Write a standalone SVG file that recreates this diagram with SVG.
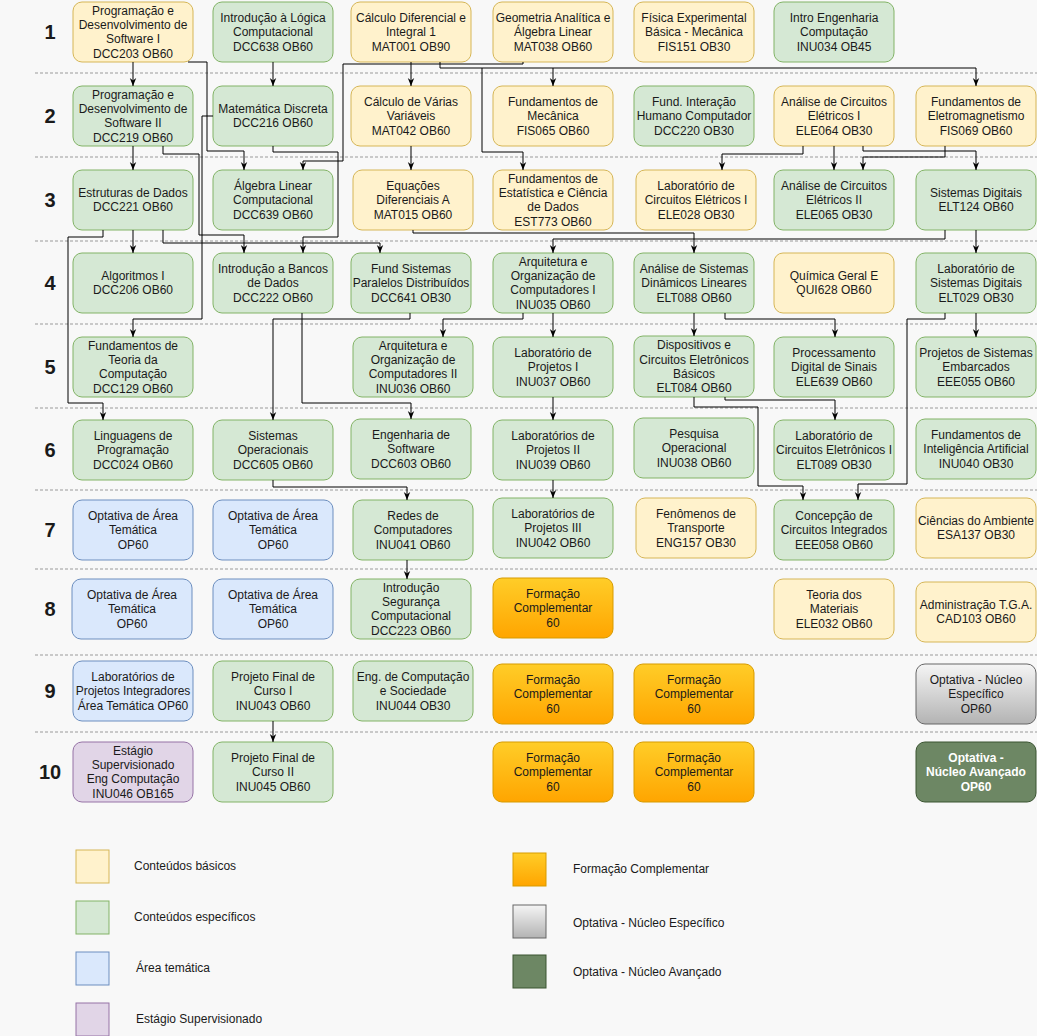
<svg xmlns="http://www.w3.org/2000/svg" width="1037" height="1036" viewBox="0 0 1037 1036">
<defs>
<linearGradient id="gOrange" x1="0" y1="0" x2="0" y2="1"><stop offset="0" stop-color="#ffcd28"/><stop offset="1" stop-color="#ffa500"/></linearGradient>
<linearGradient id="gGray" x1="0" y1="0" x2="0" y2="1"><stop offset="0" stop-color="#f5f5f5"/><stop offset="1" stop-color="#b3b3b3"/></linearGradient>
<marker id="arr" viewBox="0 0 10 10" refX="10" refY="5" markerWidth="8" markerHeight="8" markerUnits="userSpaceOnUse" orient="auto"><path d="M0,1 L10,5 L0,9 L3,5 z" fill="#000"/></marker>
</defs>
<style>
.n rect{stroke-width:1}
.y rect{fill:#fff2cc;stroke:#d6b656}
.g rect{fill:#d5e8d4;stroke:#82b366}
.b rect{fill:#dae8fc;stroke:#6c8ebf}
.p rect{fill:#e1d5e7;stroke:#9673a6}
.o rect{fill:url(#gOrange);stroke:#d79b00}
.s rect{fill:url(#gGray);stroke:#666666}
.d rect{fill:#6d8764;stroke:#3a5431}
.n text{font-family:"Liberation Sans",Arial,Helvetica,sans-serif;font-size:12px;fill:#1a1a1a;text-anchor:middle}
.d text{fill:#ffffff;font-weight:bold}
.lbl{font-family:"Liberation Sans",Arial,Helvetica,sans-serif;font-size:20px;font-weight:bold;fill:#1a1a1a;text-anchor:middle}
.sep{stroke:#9a9a9a;stroke-width:1;stroke-dasharray:3 2}
.c path{fill:none;stroke:#000;stroke-width:1;marker-end:url(#arr)}
.lg text{font-family:"Liberation Sans",Arial,Helvetica,sans-serif;font-size:12px;fill:#1a1a1a}
</style>
<rect x="0" y="0" width="1037" height="1036" fill="#f8f8f8"/>

<g id="separators">
<line class="sep" x1="35" y1="73" x2="1037" y2="73"/>
<line class="sep" x1="35" y1="157" x2="1037" y2="157"/>
<line class="sep" x1="35" y1="241" x2="1037" y2="241"/>
<line class="sep" x1="35" y1="324" x2="1037" y2="324"/>
<line class="sep" x1="35" y1="408" x2="1037" y2="408"/>
<line class="sep" x1="35" y1="490" x2="1037" y2="490"/>
<line class="sep" x1="35" y1="569" x2="1037" y2="569"/>
<line class="sep" x1="35" y1="655" x2="1037" y2="655"/>
<line class="sep" x1="35" y1="732" x2="1037" y2="732"/>
</g>

<g id="row-labels">
<text class="lbl" x="50" y="39">1</text>
<text class="lbl" x="50" y="123">2</text>
<text class="lbl" x="50" y="207">3</text>
<text class="lbl" x="50" y="290">4</text>
<text class="lbl" x="50" y="374">5</text>
<text class="lbl" x="50" y="457">6</text>
<text class="lbl" x="50" y="537">7</text>
<text class="lbl" x="50" y="616">8</text>
<text class="lbl" x="50" y="698">9</text>
<text class="lbl" x="50" y="779">10</text>
</g>

<!-- Row 1 -->
<g id="DCC203" class="n y"><rect x="73" y="2" width="120" height="60" rx="9"/><text><tspan x="133" y="14.6">Programação e</tspan><tspan x="133" y="29">Desenvolvimento de</tspan><tspan x="133" y="43.4">Software I</tspan><tspan x="133" y="57.8">DCC203 OB60</tspan></text></g>
<g id="DCC638" class="n g"><rect x="213" y="2" width="120" height="60" rx="9"/><text><tspan x="273" y="21.8">Introdução à Lógica</tspan><tspan x="273" y="36.2">Computacional</tspan><tspan x="273" y="50.6">DCC638 OB60</tspan></text></g>
<g id="MAT001" class="n y"><rect x="351" y="2" width="120" height="60" rx="9"/><text><tspan x="411" y="21.8">Cálculo Diferencial e</tspan><tspan x="411" y="36.2">Integral 1</tspan><tspan x="411" y="50.6">MAT001 OB90</tspan></text></g>
<g id="MAT038" class="n y"><rect x="493" y="2" width="120" height="60" rx="9"/><text><tspan x="553" y="21.8">Geometria Analítica e</tspan><tspan x="553" y="36.2">Álgebra Linear</tspan><tspan x="553" y="50.6">MAT038 OB60</tspan></text></g>
<g id="FIS151" class="n y"><rect x="634" y="2" width="120" height="60" rx="9"/><text><tspan x="694" y="21.8">Física Experimental</tspan><tspan x="694" y="36.2">Básica - Mecânica</tspan><tspan x="694" y="50.6">FIS151 OB30</tspan></text></g>
<g id="INU034" class="n g"><rect x="774" y="2" width="120" height="60" rx="9"/><text><tspan x="834" y="21.8">Intro Engenharia</tspan><tspan x="834" y="36.2">Computação</tspan><tspan x="834" y="50.6">INU034 OB45</tspan></text></g>

<!-- Row 2 -->
<g id="DCC219" class="n g"><rect x="73" y="86" width="120" height="60" rx="9"/><text><tspan x="133" y="98.6">Programação e</tspan><tspan x="133" y="113">Desenvolvimento de</tspan><tspan x="133" y="127.4">Software II</tspan><tspan x="133" y="141.8">DCC219 OB60</tspan></text></g>
<g id="DCC216" class="n g"><rect x="213" y="86" width="120" height="60" rx="9"/><text><tspan x="273" y="113">Matemática Discreta</tspan><tspan x="273" y="127.4">DCC216 OB60</tspan></text></g>
<g id="MAT042" class="n y"><rect x="351" y="86" width="120" height="60" rx="9"/><text><tspan x="411" y="105.8">Cálculo de Várias</tspan><tspan x="411" y="120.2">Variáveis</tspan><tspan x="411" y="134.6">MAT042 OB60</tspan></text></g>
<g id="FIS065" class="n y"><rect x="493" y="86" width="120" height="60" rx="9"/><text><tspan x="553" y="105.8">Fundamentos de</tspan><tspan x="553" y="120.2">Mecânica</tspan><tspan x="553" y="134.6">FIS065 OB60</tspan></text></g>
<g id="DCC220" class="n g"><rect x="634" y="86" width="120" height="60" rx="9"/><text><tspan x="694" y="105.8">Fund. Interação</tspan><tspan x="694" y="120.2">Humano Computador</tspan><tspan x="694" y="134.6">DCC220 OB30</tspan></text></g>
<g id="ELE064" class="n y"><rect x="774" y="86" width="120" height="60" rx="9"/><text><tspan x="834" y="105.8">Análise de Circuitos</tspan><tspan x="834" y="120.2">Elétricos I</tspan><tspan x="834" y="134.6">ELE064 OB30</tspan></text></g>
<g id="FIS069" class="n y"><rect x="916" y="86" width="120" height="60" rx="9"/><text><tspan x="976" y="105.8">Fundamentos de</tspan><tspan x="976" y="120.2">Eletromagnetismo</tspan><tspan x="976" y="134.6">FIS069 OB60</tspan></text></g>

<!-- Row 3 -->
<g id="DCC221" class="n g"><rect x="73" y="170" width="120" height="60" rx="9"/><text><tspan x="133" y="197">Estruturas de Dados</tspan><tspan x="133" y="211.4">DCC221 OB60</tspan></text></g>
<g id="DCC639" class="n g"><rect x="213" y="170" width="120" height="60" rx="9"/><text><tspan x="273" y="189.8">Álgebra Linear</tspan><tspan x="273" y="204.2">Computacional</tspan><tspan x="273" y="218.6">DCC639 OB60</tspan></text></g>
<g id="MAT015" class="n y"><rect x="353" y="170" width="120" height="60" rx="9"/><text><tspan x="413" y="189.8">Equações</tspan><tspan x="413" y="204.2">Diferenciais A</tspan><tspan x="413" y="218.6">MAT015 OB60</tspan></text></g>
<g id="EST773" class="n y"><rect x="493" y="170" width="120" height="60" rx="9"/><text><tspan x="553" y="182.6">Fundamentos de</tspan><tspan x="553" y="197">Estatística e Ciência</tspan><tspan x="553" y="211.4">de Dados</tspan><tspan x="553" y="225.8">EST773 OB60</tspan></text></g>
<g id="ELE028" class="n y"><rect x="636" y="170" width="120" height="60" rx="9"/><text><tspan x="696" y="189.8">Laboratório de</tspan><tspan x="696" y="204.2">Circuitos Elétricos I</tspan><tspan x="696" y="218.6">ELE028 OB30</tspan></text></g>
<g id="ELE065" class="n g"><rect x="774" y="170" width="120" height="60" rx="9"/><text><tspan x="834" y="189.8">Análise de Circuitos</tspan><tspan x="834" y="204.2">Elétricos II</tspan><tspan x="834" y="218.6">ELE065 OB30</tspan></text></g>
<g id="ELT124" class="n g"><rect x="916" y="170" width="120" height="60" rx="9"/><text><tspan x="976" y="197">Sistemas Digitais</tspan><tspan x="976" y="211.4">ELT124 OB60</tspan></text></g>

<!-- Row 4 -->
<g id="DCC206" class="n g"><rect x="73" y="253" width="120" height="60" rx="9"/><text><tspan x="133" y="280">Algoritmos I</tspan><tspan x="133" y="294.4">DCC206 OB60</tspan></text></g>
<g id="DCC222" class="n g"><rect x="213" y="253" width="120" height="60" rx="9"/><text><tspan x="273" y="272.8">Introdução a Bancos</tspan><tspan x="273" y="287.2">de Dados</tspan><tspan x="273" y="301.6">DCC222 OB60</tspan></text></g>
<g id="DCC641" class="n g"><rect x="351" y="253" width="120" height="60" rx="9"/><text><tspan x="411" y="272.8">Fund Sistemas</tspan><tspan x="411" y="287.2">Paralelos Distribuídos</tspan><tspan x="411" y="301.6">DCC641 OB30</tspan></text></g>
<g id="INU035" class="n g"><rect x="493" y="253" width="120" height="60" rx="9"/><text><tspan x="553" y="265.6">Arquitetura e</tspan><tspan x="553" y="280">Organização de</tspan><tspan x="553" y="294.4">Computadores I</tspan><tspan x="553" y="308.8">INU035 OB60</tspan></text></g>
<g id="ELT088" class="n g"><rect x="634" y="253" width="120" height="60" rx="9"/><text><tspan x="694" y="272.8">Análise de Sistemas</tspan><tspan x="694" y="287.2">Dinâmicos Lineares</tspan><tspan x="694" y="301.6">ELT088 OB60</tspan></text></g>
<g id="QUI628" class="n y"><rect x="774" y="253" width="120" height="60" rx="9"/><text><tspan x="834" y="280">Química Geral E</tspan><tspan x="834" y="294.4">QUI628 OB60</tspan></text></g>
<g id="ELT029" class="n g"><rect x="916" y="253" width="120" height="60" rx="9"/><text><tspan x="976" y="272.8">Laboratório de</tspan><tspan x="976" y="287.2">Sistemas Digitais</tspan><tspan x="976" y="301.6">ELT029 OB30</tspan></text></g>

<!-- Row 5 -->
<g id="DCC129" class="n g"><rect x="73" y="337" width="120" height="60" rx="9"/><text><tspan x="133" y="349.6">Fundamentos de</tspan><tspan x="133" y="364">Teoria da</tspan><tspan x="133" y="378.4">Computação</tspan><tspan x="133" y="392.8">DCC129 OB60</tspan></text></g>
<g id="INU036" class="n g"><rect x="353" y="337" width="120" height="60" rx="9"/><text><tspan x="413" y="349.6">Arquitetura e</tspan><tspan x="413" y="364">Organização de</tspan><tspan x="413" y="378.4">Computadores II</tspan><tspan x="413" y="392.8">INU036 OB60</tspan></text></g>
<g id="INU037" class="n g"><rect x="493" y="337" width="120" height="60" rx="9"/><text><tspan x="553" y="356.8">Laboratório de</tspan><tspan x="553" y="371.2">Projetos I</tspan><tspan x="553" y="385.6">INU037 OB60</tspan></text></g>
<g id="ELT084" class="n g"><rect x="634" y="336" width="120" height="61" rx="9"/><text><tspan x="694" y="349.1">Dispositivos e</tspan><tspan x="694" y="363.5">Circuitos Eletrônicos</tspan><tspan x="694" y="377.9">Básicos</tspan><tspan x="694" y="392.3">ELT084 OB60</tspan></text></g>
<g id="ELE639" class="n g"><rect x="774" y="337" width="120" height="60" rx="9"/><text><tspan x="834" y="356.8">Processamento</tspan><tspan x="834" y="371.2">Digital de Sinais</tspan><tspan x="834" y="385.6">ELE639 OB60</tspan></text></g>
<g id="EEE055" class="n g"><rect x="916" y="337" width="120" height="60" rx="9"/><text><tspan x="976" y="356.8">Projetos de Sistemas</tspan><tspan x="976" y="371.2">Embarcados</tspan><tspan x="976" y="385.6">EEE055 OB60</tspan></text></g>

<!-- Row 6 -->
<g id="DCC024" class="n g"><rect x="73" y="420" width="120" height="60" rx="9"/><text><tspan x="133" y="439.8">Linguagens de</tspan><tspan x="133" y="454.2">Programação</tspan><tspan x="133" y="468.6">DCC024 OB60</tspan></text></g>
<g id="DCC605" class="n g"><rect x="213" y="420" width="120" height="60" rx="9"/><text><tspan x="273" y="439.8">Sistemas</tspan><tspan x="273" y="454.2">Operacionais</tspan><tspan x="273" y="468.6">DCC605 OB60</tspan></text></g>
<g id="DCC603" class="n g"><rect x="351" y="419" width="120" height="60" rx="9"/><text><tspan x="411" y="438.8">Engenharia de</tspan><tspan x="411" y="453.2">Software</tspan><tspan x="411" y="467.6">DCC603 OB60</tspan></text></g>
<g id="INU039" class="n g"><rect x="493" y="420" width="120" height="60" rx="9"/><text><tspan x="553" y="439.8">Laboratórios de</tspan><tspan x="553" y="454.2">Projetos II</tspan><tspan x="553" y="468.6">INU039 OB60</tspan></text></g>
<g id="INU038" class="n g"><rect x="634" y="418" width="120" height="60" rx="9"/><text><tspan x="694" y="437.8">Pesquisa</tspan><tspan x="694" y="452.2">Operacional</tspan><tspan x="694" y="466.6">INU038 OB60</tspan></text></g>
<g id="ELT089" class="n g"><rect x="774" y="420" width="120" height="60" rx="9"/><text><tspan x="834" y="439.8">Laboratório de</tspan><tspan x="834" y="454.2">Circuitos Eletrônicos I</tspan><tspan x="834" y="468.6">ELT089 OB30</tspan></text></g>
<g id="INU040" class="n g"><rect x="916" y="419" width="120" height="60" rx="9"/><text><tspan x="976" y="438.8">Fundamentos de</tspan><tspan x="976" y="453.2">Inteligência Artificial</tspan><tspan x="976" y="467.6">INU040 OB30</tspan></text></g>

<!-- Row 7 -->
<g id="OPT7a" class="n b"><rect x="73" y="500" width="120" height="60" rx="9"/><text><tspan x="133" y="519.8">Optativa de Área</tspan><tspan x="133" y="534.2">Temática</tspan><tspan x="133" y="548.6">OP60</tspan></text></g>
<g id="OPT7b" class="n b"><rect x="213" y="500" width="120" height="60" rx="9"/><text><tspan x="273" y="519.8">Optativa de Área</tspan><tspan x="273" y="534.2">Temática</tspan><tspan x="273" y="548.6">OP60</tspan></text></g>
<g id="INU041" class="n g"><rect x="353" y="500" width="120" height="60" rx="9"/><text><tspan x="413" y="519.8">Redes de</tspan><tspan x="413" y="534.2">Computadores</tspan><tspan x="413" y="548.6">INU041 OB60</tspan></text></g>
<g id="INU042" class="n g"><rect x="493" y="498" width="120" height="60" rx="9"/><text><tspan x="553" y="517.8">Laboratórios de</tspan><tspan x="553" y="532.2">Projetos III</tspan><tspan x="553" y="546.6">INU042 OB60</tspan></text></g>
<g id="ENG157" class="n y"><rect x="636" y="498" width="120" height="60" rx="9"/><text><tspan x="696" y="517.8">Fenômenos de</tspan><tspan x="696" y="532.2">Transporte</tspan><tspan x="696" y="546.6">ENG157 OB30</tspan></text></g>
<g id="EEE058" class="n g"><rect x="774" y="500" width="120" height="60" rx="9"/><text><tspan x="834" y="519.8">Concepção de</tspan><tspan x="834" y="534.2">Circuitos Integrados</tspan><tspan x="834" y="548.6">EEE058 OB60</tspan></text></g>
<g id="ESA137" class="n y"><rect x="916" y="498" width="120" height="60" rx="9"/><text><tspan x="976" y="525">Ciências do Ambiente</tspan><tspan x="976" y="539.4">ESA137 OB30</tspan></text></g>

<!-- Row 8 -->
<g id="OPT8a" class="n b"><rect x="72" y="579" width="120" height="60" rx="9"/><text><tspan x="132" y="598.8">Optativa de Área</tspan><tspan x="132" y="613.2">Temática</tspan><tspan x="132" y="627.6">OP60</tspan></text></g>
<g id="OPT8b" class="n b"><rect x="213" y="579" width="120" height="60" rx="9"/><text><tspan x="273" y="598.8">Optativa de Área</tspan><tspan x="273" y="613.2">Temática</tspan><tspan x="273" y="627.6">OP60</tspan></text></g>
<g id="DCC223" class="n g"><rect x="351" y="579" width="120" height="60" rx="9"/><text><tspan x="411" y="591.6">Introdução</tspan><tspan x="411" y="606">Segurança</tspan><tspan x="411" y="620.4">Computacional</tspan><tspan x="411" y="634.8">DCC223 OB60</tspan></text></g>
<g id="FC8" class="n o"><rect x="493" y="578" width="120" height="60" rx="9"/><text><tspan x="553" y="597.8">Formação</tspan><tspan x="553" y="612.2">Complementar</tspan><tspan x="553" y="626.6">60</tspan></text></g>
<g id="ELE032" class="n y"><rect x="774" y="579" width="120" height="60" rx="9"/><text><tspan x="834" y="598.8">Teoria dos</tspan><tspan x="834" y="613.2">Materiais</tspan><tspan x="834" y="627.6">ELE032 OB60</tspan></text></g>
<g id="CAD103" class="n y"><rect x="916" y="582" width="120" height="60" rx="9"/><text><tspan x="976" y="609">Administração T.G.A.</tspan><tspan x="976" y="623.4">CAD103 OB60</tspan></text></g>

<!-- Row 9 -->
<g id="LPI" class="n b"><rect x="73" y="661" width="120" height="60" rx="9"/><text><tspan x="133" y="680.8">Laboratórios de</tspan><tspan x="133" y="695.2">Projetos Integradores</tspan><tspan x="133" y="709.6">Área Temática OP60</tspan></text></g>
<g id="INU043" class="n g"><rect x="213" y="661" width="120" height="60" rx="9"/><text><tspan x="273" y="680.8">Projeto Final de</tspan><tspan x="273" y="695.2">Curso I</tspan><tspan x="273" y="709.6">INU043 OB60</tspan></text></g>
<g id="INU044" class="n g"><rect x="353" y="661" width="120" height="60" rx="9"/><text><tspan x="413" y="680.8">Eng. de Computação</tspan><tspan x="413" y="695.2">e Sociedade</tspan><tspan x="413" y="709.6">INU044 OB30</tspan></text></g>
<g id="FC9a" class="n o"><rect x="493" y="664" width="120" height="60" rx="9"/><text><tspan x="553" y="683.8">Formação</tspan><tspan x="553" y="698.2">Complementar</tspan><tspan x="553" y="712.6">60</tspan></text></g>
<g id="FC9b" class="n o"><rect x="634" y="664" width="120" height="60" rx="9"/><text><tspan x="694" y="683.8">Formação</tspan><tspan x="694" y="698.2">Complementar</tspan><tspan x="694" y="712.6">60</tspan></text></g>
<g id="OPTNE" class="n s"><rect x="916" y="664" width="120" height="60" rx="9"/><text><tspan x="976" y="683.8">Optativa - Núcleo</tspan><tspan x="976" y="698.2">Específico</tspan><tspan x="976" y="712.6">OP60</tspan></text></g>

<!-- Row 10 -->
<g id="INU046" class="n p"><rect x="73" y="742" width="120" height="60" rx="9"/><text><tspan x="133" y="754.6">Estágio</tspan><tspan x="133" y="769">Supervisionado</tspan><tspan x="133" y="783.4">Eng Computação</tspan><tspan x="133" y="797.8">INU046 OB165</tspan></text></g>
<g id="INU045" class="n g"><rect x="213" y="742" width="120" height="60" rx="9"/><text><tspan x="273" y="761.8">Projeto Final de</tspan><tspan x="273" y="776.2">Curso II</tspan><tspan x="273" y="790.6">INU045 OB60</tspan></text></g>
<g id="FC10a" class="n o"><rect x="493" y="742" width="120" height="60" rx="9"/><text><tspan x="553" y="761.8">Formação</tspan><tspan x="553" y="776.2">Complementar</tspan><tspan x="553" y="790.6">60</tspan></text></g>
<g id="FC10b" class="n o"><rect x="634" y="742" width="120" height="60" rx="9"/><text><tspan x="694" y="761.8">Formação</tspan><tspan x="694" y="776.2">Complementar</tspan><tspan x="694" y="790.6">60</tspan></text></g>
<g id="OPTNA" class="n d"><rect x="916" y="742" width="120" height="60" rx="9"/><text><tspan x="976" y="761.8">Optativa -</tspan><tspan x="976" y="776.2">Núcleo Avançado</tspan><tspan x="976" y="790.6">OP60</tspan></text></g>

<g id="connectors" class="c">
<path d="M133,62 V86"/>
<path d="M273,62 V86"/>
<path d="M411,62 V86"/>
<path d="M188,62 H207 V151 H244 V170"/>
<path d="M523,62 V64 H343 V161 H303 V170"/>
<path d="M440,62 V68 H976 V86"/>
<path d="M553,68 V86"/>
<path d="M482,68 V152 H523 V170"/>
<path d="M273,146 V152 H338 V237 H303 V253"/>
<path d="M213,116 H202 V319 H133 V337"/>
<path d="M133,146 V170"/>
<path d="M163,146 V154 H199 V235 H244 V253"/>
<path d="M411,146 V170"/>
<path d="M803,146 V154 H722 V170"/>
<path d="M834,146 V170"/>
<path d="M863,146 V151 H976 V170"/>
<path d="M945,146 V157 H863 V170"/>
<path d="M133,230 V253"/>
<path d="M103,230 V237 H68 V403 H103 V420"/>
<path d="M163,230 V243 H380 V253"/>
<path d="M413,230 V233 H694 V253"/>
<path d="M945,230 V239 H553 V253"/>
<path d="M976,230 V253"/>
<path d="M410,313 V319 H273 V420"/>
<path d="M302,313 V403 H411 V419"/>
<path d="M523,313 V319 H443 V337"/>
<path d="M553,313 V337"/>
<path d="M694,313 V336"/>
<path d="M725,313 V319 H835 V337"/>
<path d="M945,313 V319 H907 V484 H858 V500"/>
<path d="M976,313 V337"/>
<path d="M553,397 V420"/>
<path d="M694,397 V407 H758 V486 H803 V500"/>
<path d="M725,397 V400 H835 V420"/>
<path d="M273,480 V487 H407 V500"/>
<path d="M553,480 V498"/>
<path d="M407,560 V579"/>
<path d="M273,721 V742"/>
</g>

<g id="legend" class="lg">
<rect x="76" y="850" width="33" height="33" fill="#fff2cc" stroke="#d6b656"/>
<text x="134" y="870">Conteúdos básicos</text>
<rect x="76" y="901" width="33" height="33" fill="#d5e8d4" stroke="#82b366"/>
<text x="134" y="921">Conteúdos específicos</text>
<rect x="76" y="952" width="33" height="33" fill="#dae8fc" stroke="#6c8ebf"/>
<text x="136" y="972">Área temática</text>
<rect x="76" y="1003" width="33" height="33" fill="#e1d5e7" stroke="#9673a6"/>
<text x="136" y="1023">Estágio Supervisionado</text>
<rect x="513" y="853" width="33" height="33" fill="url(#gOrange)" stroke="#d79b00"/>
<text x="573" y="873">Formação Complementar</text>
<rect x="513" y="905" width="33" height="33" fill="url(#gGray)" stroke="#666666"/>
<text x="573" y="927">Optativa - Núcleo Específico</text>
<rect x="513" y="955" width="33" height="33" fill="#6d8764" stroke="#3a5431"/>
<text x="573" y="976">Optativa - Núcleo Avançado</text>
</g>
</svg>
